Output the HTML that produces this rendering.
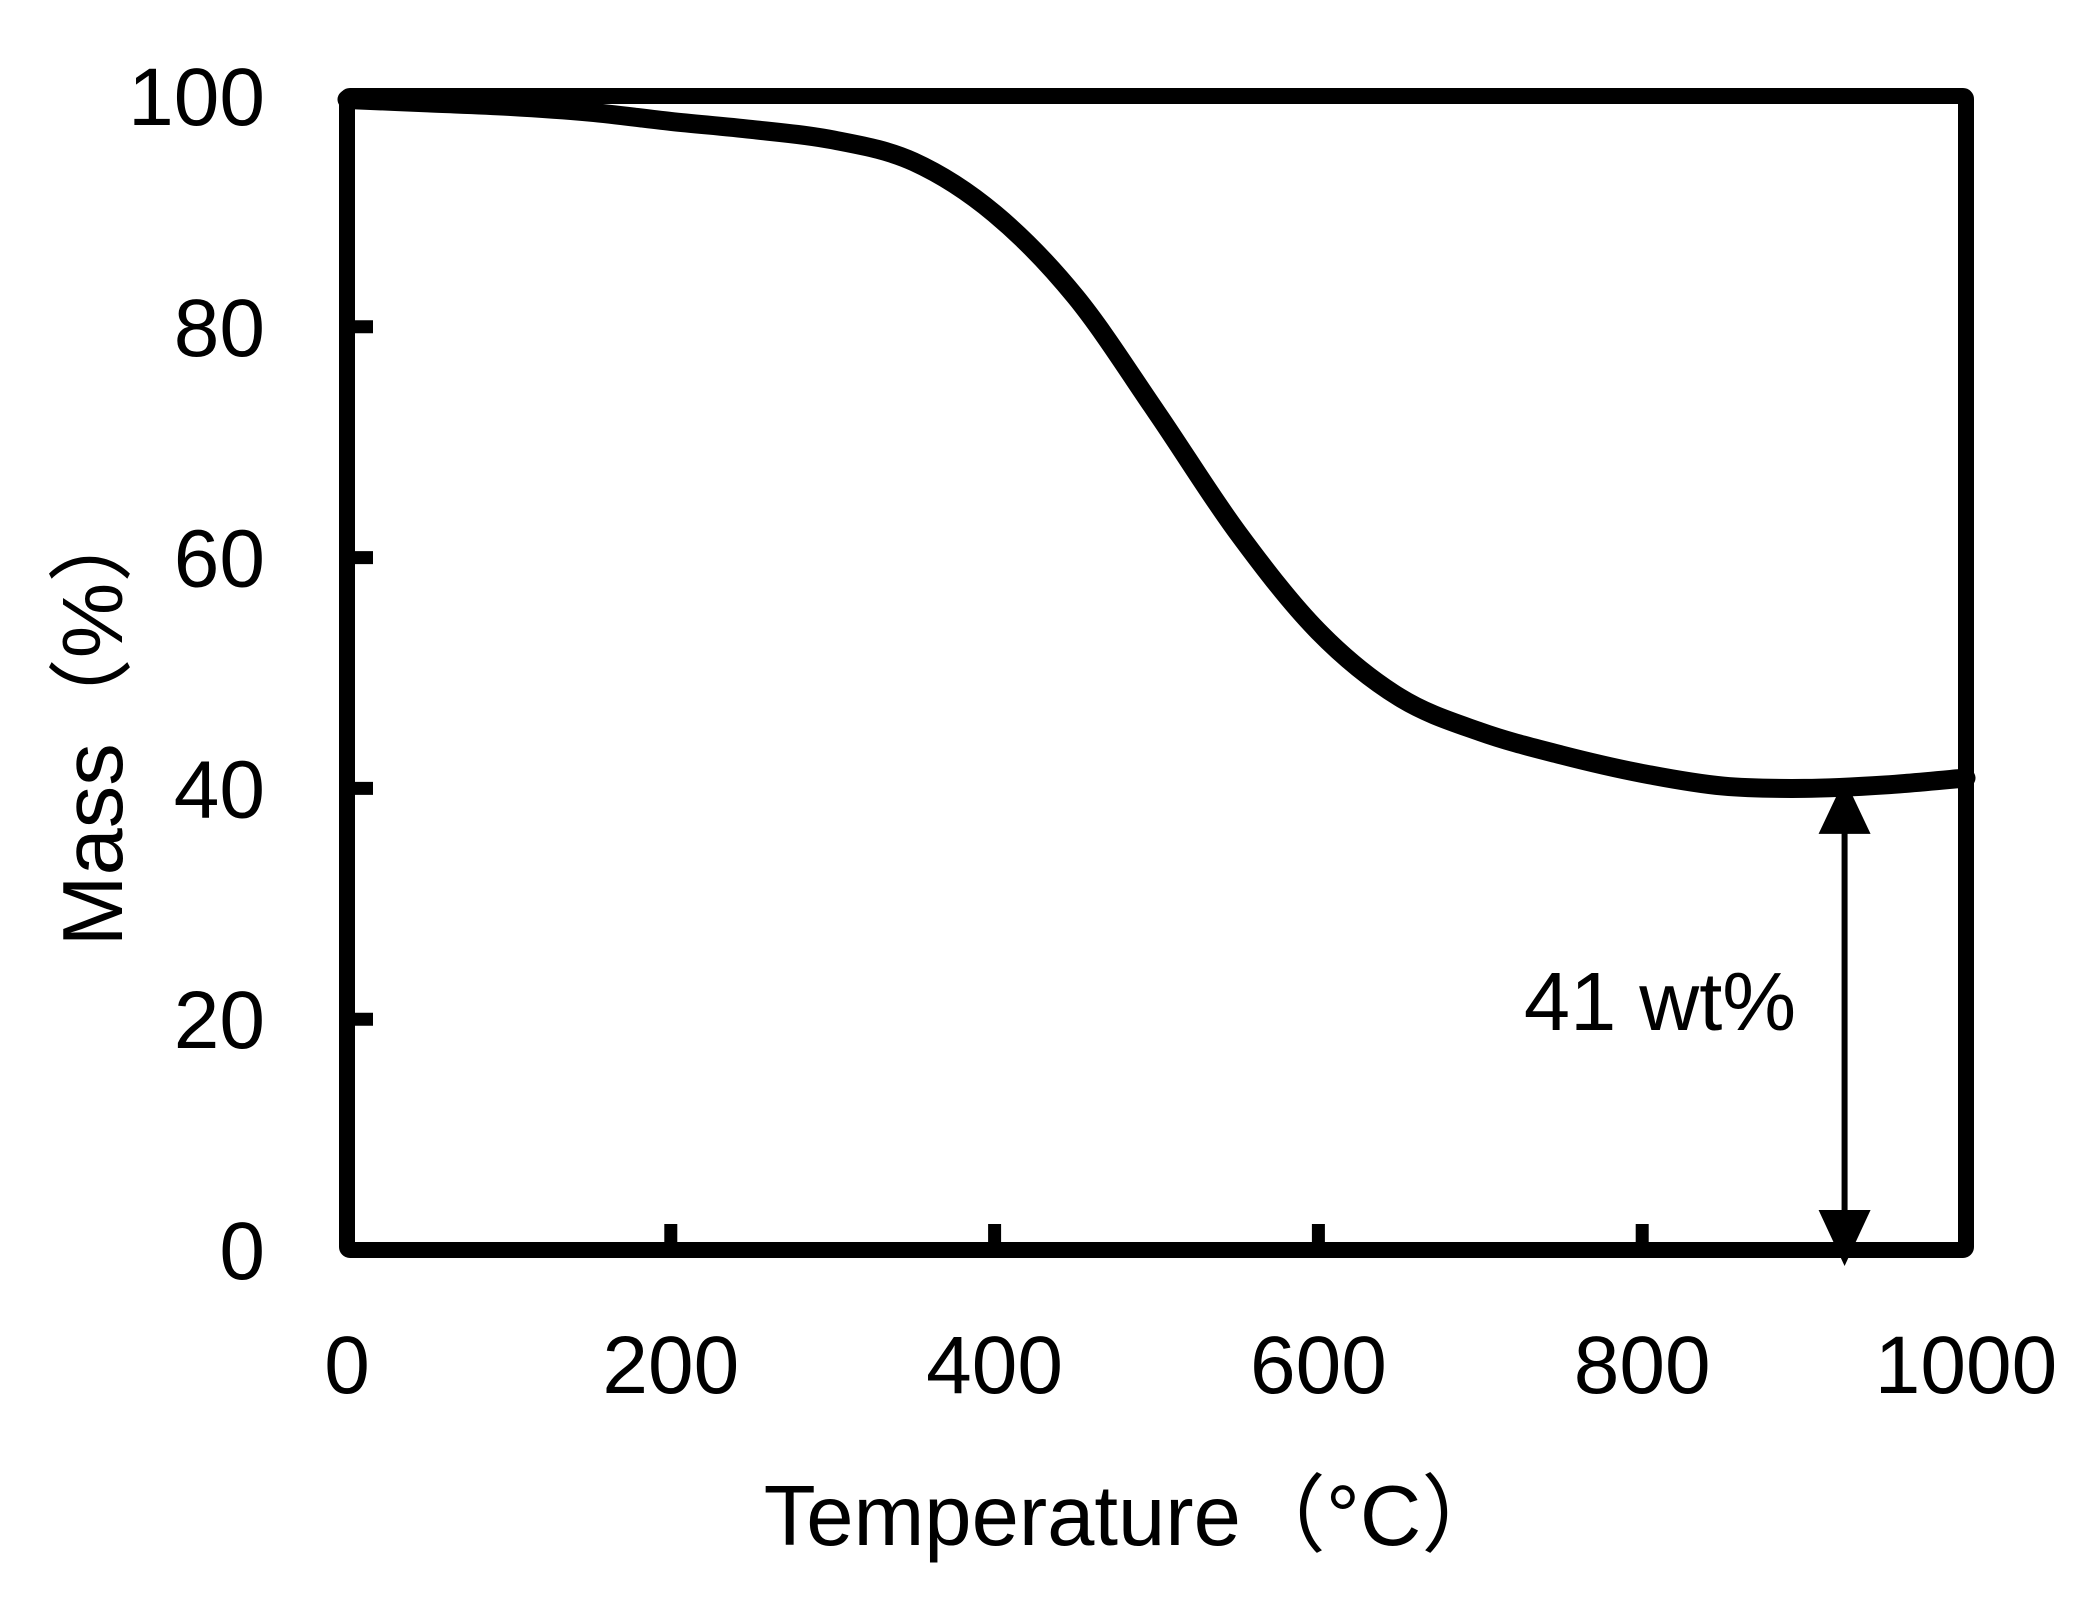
<!DOCTYPE html>
<html><head><meta charset="utf-8"><style>
html,body{margin:0;padding:0;background:#fff}
svg{display:block}
text{font-family:"Liberation Sans","Noto Sans CJK JP",sans-serif;fill:#000}
</style></head><body>
<svg id="chart" width="2090" height="1598" viewBox="0 0 2090 1598" xmlns="http://www.w3.org/2000/svg">
<g id="ticks"></g>
<path id="curve" fill="none" stroke="#000" stroke-width="19" stroke-linejoin="round" stroke-linecap="round"/>
<rect x="347" y="96" width="1619" height="1154" fill="none" stroke="#000" stroke-width="16" rx="3"/>
<g id="annot"></g>
<text x="1135" y="1545" font-size="85" text-anchor="middle">Temperature（°C）</text>
<text transform="translate(122,722) rotate(-90)" font-size="85" text-anchor="middle">Mass（%）</text>
<text x="1660" y="1030" font-size="83" text-anchor="middle">41 wt%</text>
</svg>
<script>
const xTicks=[0,200,400,600,800,1000];
const yTicks=[0,20,40,60,80,100];
const temps=[0,50,100,150,200,250,300,350,400,450,500,550,600,650,700,750,800,850,900,950,1000];
const mass=[99.7,99.4,99.1,98.6,97.8,97.1,96.2,94.3,89.8,82.6,72.6,62.2,53.6,47.9,44.9,42.9,41.3,40.2,40.0,40.3,40.9];
const residue=[41];
const residueTemp=[925];
const X0=347,X1=1966,Y0=1250,Y1=96;
const sx=v=>X0+(v-0)/1000*(X1-X0);
const sy=v=>Y0-(v-0)/100*(Y0-Y1);
const NS="http://www.w3.org/2000/svg";
const tg=document.getElementById('ticks');
function mk(tag,attrs,parent){const e=document.createElementNS(NS,tag);for(const k in attrs)e.setAttribute(k,attrs[k]);parent.appendChild(e);return e;}
xTicks.forEach(v=>{
  if(v>0&&v<1000){const t=mk('line',{x1:sx(v),x2:sx(v),y1:Y0,y2:Y0-26,stroke:'#000','stroke-width':13},tg);
  
  }
  const l=mk('text',{x:sx(v),y:1393,'font-size':82,'text-anchor':'middle'},tg);
  l.textContent=v;
  
  
});
yTicks.forEach(v=>{
  if(v>0&&v<100){const t=mk('line',{x1:X0,x2:X0+26,y1:sy(v),y2:sy(v),stroke:'#000','stroke-width':13},tg);
  
  }
  const l=mk('text',{x:265,y:sy(v)+29,'font-size':82,'text-anchor':'end'},tg);
  l.textContent=v;
  
  
});
const pts=temps.map((t,i)=>[sx(t),sy(mass[i])]);
let d='M'+pts[0][0]+','+pts[0][1];
for(let i=0;i<pts.length-1;i++){
  const p0=pts[i-1]||pts[i],p1=pts[i],p2=pts[i+1],p3=pts[i+2]||p2;
  const c1=[p1[0]+(p2[0]-p0[0])/6,p1[1]+(p2[1]-p0[1])/6];
  const c2=[p2[0]-(p3[0]-p1[0])/6,p2[1]-(p3[1]-p1[1])/6];
  d+=` C${c1[0]},${c1[1]} ${c2[0]},${c2[1]} ${p2[0]},${p2[1]}`;
}
document.getElementById('curve').setAttribute('d',d);
const ag=document.getElementById('annot');
const ax=sx(residueTemp[0]),ayTop=sy(residue[0]),ayBot=sy(0);
const sh=mk('line',{x1:ax,x2:ax,y1:ayTop+40,y2:ayBot-40,stroke:'#000','stroke-width':6},ag);


const h1=mk('polygon',{points:`${ax},${ayTop+2} ${ax-26},${ayTop+57} ${ax+26},${ayTop+57}`,fill:'#000'},ag);


const h2=mk('polygon',{points:`${ax},${ayBot+16} ${ax-26},${ayBot-40} ${ax+26},${ayBot-40}`,fill:'#000'},ag);


</script>
</body></html>
